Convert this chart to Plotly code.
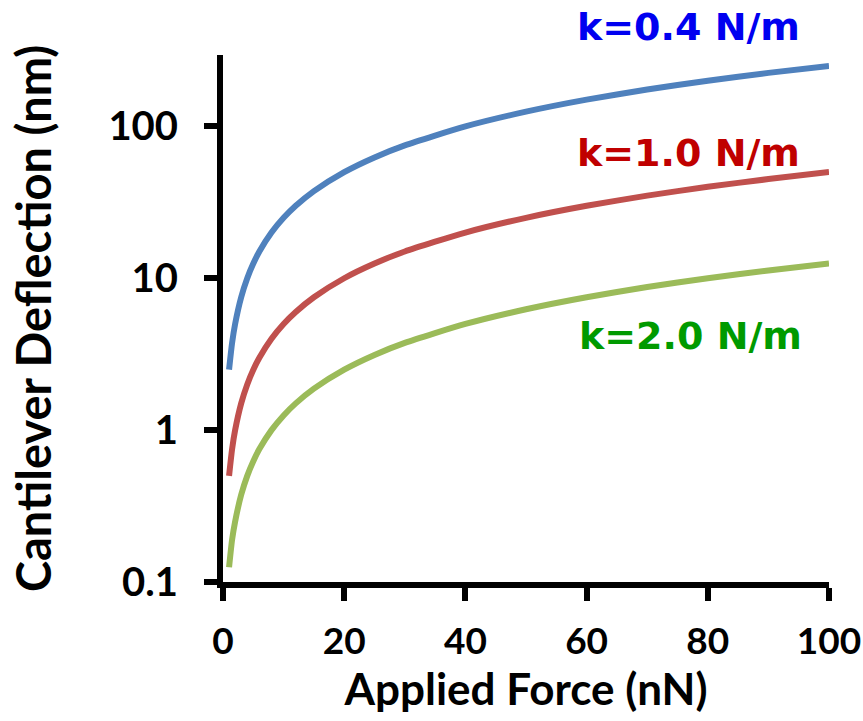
import plotly.graph_objects as go

force = [1, 1.5, 2, 3, 4, 5, 6, 8, 10, 12, 15, 20, 25, 30, 40, 50, 60, 70, 80, 90, 100]
defl_k04 = [2.5, 3.75, 5, 7.5, 10, 12.5, 15, 20, 25, 30, 37.5, 50, 62.5, 75, 100, 125, 150, 175, 200, 225, 250]
defl_k10 = [0.5, 0.75, 1, 1.5, 2, 2.5, 3, 4, 5, 6, 7.5, 10, 12.5, 15, 20, 25, 30, 35, 40, 45, 50]
defl_k20 = [0.125, 0.19, 0.25, 0.375, 0.5, 0.625, 0.75, 1, 1.25, 1.5, 1.875, 2.5, 3.125, 3.75, 5, 6.25, 7.5, 8.75, 10, 11.25, 12.5]

series_names = ["k=0.4 N/m", "k=1.0 N/m", "k=2.0 N/m"]
line_colors = ["#4F81BD", "#C0504D", "#9BBB59"]
label_colors = ["#0000F0", "#C00000", "#009A00"]
y_ticks = [0.1, 1, 10, 100]
y_ticktext = ["0.1", "1", "10", "100"]
x_ticks = [0, 20, 40, 60, 80, 100]

fig = go.Figure()
for ys, c, n in zip([defl_k04, defl_k10, defl_k20], line_colors, series_names):
    fig.add_trace(go.Scatter(x=force, y=ys, mode="lines", name=n,
                             line=dict(color=c, width=6, shape="spline", smoothing=0.6)))

label_pos = [(0.768, 1.053), (0.768, 0.814), (0.772, 0.466)]
for (px, py), c, n in zip(label_pos, label_colors, series_names):
    fig.add_annotation(x=px, y=py, xref="paper", yref="paper", text=n, showarrow=False,
                       font=dict(family="DejaVu Sans", size=38, color=c, weight="bold"),
                       xanchor="center", yanchor="middle")

font_main = "Lato"
fig.update_layout(
    width=863, height=721,
    margin=dict(l=223, r=34, t=55, b=139),
    paper_bgcolor="white", plot_bgcolor="white",
    showlegend=False,
    font=dict(family=font_main, color="black"),
)
fig.update_xaxes(
    range=[0, 100], tickvals=x_ticks, showline=True, linecolor="black", linewidth=6,
    ticks="outside", ticklen=13, tickwidth=6, tickcolor="black",
    showgrid=False, zeroline=False, ticklabeloverflow="allow", automargin=False,
    tickfont=dict(family=font_main, size=37, color="black", weight="bold"),
    ticklabelstandoff=9,
    title=dict(text="<b>Applied Force (nN)</b>", font=dict(family=font_main, size=44, color="black"), standoff=4),
)
fig.update_yaxes(
    type="log", range=[-1, 2.47], tickvals=y_ticks, ticktext=y_ticktext,
    showline=True, linecolor="black", linewidth=6,
    ticks="outside", ticklen=13, tickwidth=6, tickcolor="black",
    showgrid=False, zeroline=False, automargin=False,
    tickfont=dict(family=font_main, size=40, color="black", weight="bold"),
    ticklabelstandoff=18,
    title=dict(text="<b>Cantilever Deflection (nm)</b>", font=dict(family=font_main, size=47, color="black"), standoff=44),
)
fig.write_html("out.html")
